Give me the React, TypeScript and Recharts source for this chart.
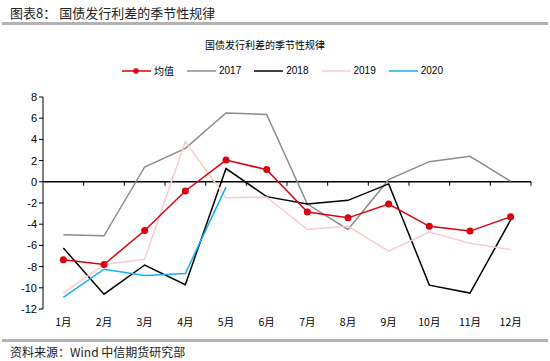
import React from 'react';
import { LineChart, Line, XAxis, YAxis, ReferenceLine, Legend } from 'recharts';

// 月份
const months = ['1月', '2月', '3月', '4月', '5月', '6月', '7月', '8月', '9月', '10月', '11月', '12月'];

// 各序列数值
const meanValues = [-7.35, -7.8, -4.6, -0.87, 2.05, 1.15, -2.85, -3.4, -2.1, -4.2, -4.65, -3.3];
const values2017 = [-5.0, -5.1, 1.4, 3.15, 6.5, 6.35, -2.1, -4.5, 0.2, 1.9, 2.4, 0.05];
const values2018 = [-6.25, -10.6, -7.85, -9.7, 1.25, -1.4, -2.1, -1.75, -0.2, -9.75, -10.5, -3.6];
const values2019 = [-10.5, -7.8, -7.3, 3.8, -1.5, -1.45, -4.5, -4.2, -6.55, -4.75, -5.8, -6.4];
const values2020 = [-10.9, -8.25, -8.85, -8.65, -0.5, null, null, null, null, null, null, null];

const yTicks = [-12, -10, -8, -6, -4, -2, 0, 2, 4, 6, 8];

const COLORS = {
    mean: '#d9000f',
    y2017: '#8c8c8c',
    y2018: '#000000',
    y2019: '#f7cccc',
    y2020: '#12b0f0'
};

const legendOrder = ['均值', '2017', '2018', '2019', '2020'];

const data = months.map((m, i) => ({
    month: m,
    mean: meanValues[i],
    y2017: values2017[i],
    y2018: values2018[i],
    y2019: values2019[i],
    y2020: values2020[i]
}));

const CJK = '"Noto Sans CJK SC", "Liberation Sans", sans-serif';
const LATIN = '"Liberation Sans", "Noto Sans CJK SC", sans-serif';

// 零轴上的刻度线（类目边界）
const ZeroTicks = (props: any) => {
    const vb = props.viewBox || {};
    const n = months.length;
    const marks = [];
    for (let i = 1; i <= n; i++) {
        const x = vb.x + (vb.width * i) / n;
        marks.push(<line key={i} x1={x} x2={x} y1={vb.y} y2={vb.y + 4} stroke="#000" strokeWidth={1} />);
    }
    return <g>{marks}</g>;
};

const LegendContent = (props: any) => {
    const items = [...(props.payload || [])].sort(
        (a: any, b: any) => legendOrder.indexOf(a.value) - legendOrder.indexOf(b.value)
    );
    return (
        <div style={{ display: 'flex', gap: 13, fontFamily: LATIN, fontSize: 10, color: '#000', lineHeight: '12px' }}>
            {items.map((it: any) => (
                <div key={it.value} style={{ display: 'flex', alignItems: 'center' }}>
                    <svg width={29} height={10} style={{ marginRight: 3 }}>
                        <line x1={0} x2={29} y1={5} y2={5} stroke={it.color} strokeWidth={1.5} />
                        {it.value === '均值' && <circle cx={14} cy={5} r={2.8} fill={it.color} />}
                    </svg>
                    <span style={{ fontFamily: it.value === '均值' ? CJK : LATIN }}>{it.value}</span>
                </div>
            ))}
        </div>
    );
};

export default function App() {
    return (
        <div style={{ position: 'absolute', left: 0, top: 0, width: 550, height: 361, background: '#fff', fontFamily: CJK }}>
            <div style={{ position: 'absolute', left: 10, top: 3, fontSize: 13, color: '#222' }}>
                图表8： 国债发行利差的季节性规律
            </div>
            <div style={{ position: 'absolute', left: 2, top: 22, width: 546, height: 3, background: '#b3b3b3' }} />
            <div style={{ position: 'absolute', left: 0, top: 37, width: 530, textAlign: 'center', fontSize: 10, color: '#000' }}>
                国债发行利差的季节性规律
            </div>
            <div style={{ position: 'absolute', left: 0, top: 0 }}>
                <LineChart width={550} height={361} data={data} margin={{ top: 85, right: 19, bottom: 30, left: 8 }}>
                    <Legend
                        verticalAlign="top"
                        height={12}
                        content={<LegendContent />}
                        wrapperStyle={{ top: 65, left: 122, width: 400 }}
                    />
                    <XAxis
                        dataKey="month"
                        scale="band"
                        height={22}
                        axisLine={false}
                        tickLine={false}
                        tick={{ fill: '#000', fontSize: 10.5, fontFamily: CJK }}
                        tickMargin={4}
                        interval={0}
                    />
                    <YAxis
                        width={35}
                        domain={[-12, 8]}
                        ticks={yTicks}
                        interval={0}
                        axisLine={{ stroke: '#000' }}
                        tickLine={{ stroke: '#000' }}
                        tickSize={4}
                        tick={{ fill: '#000', fontSize: 11, fontFamily: LATIN }}
                    />
                    <ReferenceLine y={0} stroke="#000" strokeWidth={1.5} label={(p: any) => <ZeroTicks {...p} />} />
                    <Line name="2017" dataKey="y2017" stroke={COLORS.y2017} strokeWidth={1.5} dot={false} isAnimationActive={false} />
                    <Line name="2018" dataKey="y2018" stroke={COLORS.y2018} strokeWidth={1.5} dot={false} isAnimationActive={false} />
                    <Line name="2019" dataKey="y2019" stroke={COLORS.y2019} strokeWidth={1.5} dot={false} isAnimationActive={false} />
                    <Line name="2020" dataKey="y2020" stroke={COLORS.y2020} strokeWidth={1.5} dot={false} isAnimationActive={false} />
                    <Line
                        name="均值"
                        dataKey="mean"
                        stroke={COLORS.mean}
                        strokeWidth={1.5}
                        dot={{ r: 3.5, fill: COLORS.mean, stroke: COLORS.mean, strokeWidth: 0 }}
                        isAnimationActive={false}
                    />
                </LineChart>
            </div>
            <div style={{ position: 'absolute', left: 2, top: 339, width: 546, height: 3, background: '#b3b3b3' }} />
            <div style={{ position: 'absolute', left: 10, top: 343, fontSize: 12, color: '#222' }}>
                资料来源：Wind 中信期货研究部
            </div>
        </div>
    );
}
